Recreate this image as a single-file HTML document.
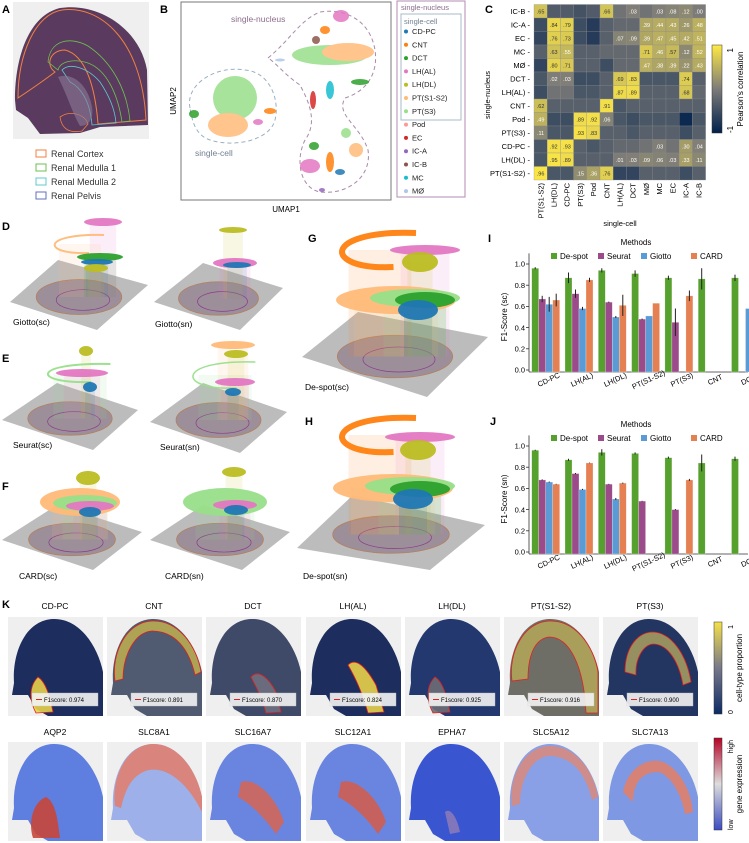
<!DOCTYPE html>
<html><head><meta charset="utf-8"><style>
html,body{margin:0;padding:0;background:#fff}
svg{display:block;font-family:"Liberation Sans",sans-serif}
</style></head><body>
<svg id="fig" width="749" height="843" viewBox="0 0 749 843" xmlns="http://www.w3.org/2000/svg">
<defs>
<linearGradient id="cbC" x1="0" y1="0" x2="0" y2="1"><stop offset="0" stop-color="#ffe945"/><stop offset="0.5" stop-color="#7c7b78"/><stop offset="1" stop-color="#00204c"/></linearGradient>
<linearGradient id="cbK1" x1="0" y1="0" x2="0" y2="1"><stop offset="0" stop-color="#f5e04a"/><stop offset="0.5" stop-color="#77788a"/><stop offset="1" stop-color="#0c2a66"/></linearGradient>
<linearGradient id="cbK2" x1="0" y1="0" x2="0" y2="1"><stop offset="0" stop-color="#b40426"/><stop offset="0.5" stop-color="#dddddd"/><stop offset="1" stop-color="#3b4cc0"/></linearGradient>
</defs>

<!-- Panel A -->
<g>
<text x="2" y="13" font-size="11" font-weight="bold">A</text>
<rect x="13" y="2" width="136" height="137" fill="#efefef"/>
<path d="M15,100 C15,55 30,15 60,8 C100,2 140,30 147,70 L148,125 L100,127 L80,133 L40,134 L28,118 L16,110 Z" fill="#5a3a5e"/>
<path d="M18,98 C18,55 35,14 62,10 C100,5 142,40 146,120 L98,124 C95,85 85,55 65,50 C50,50 45,65 55,72 C42,82 30,90 18,98 Z" fill="none" stroke="#f08040" stroke-width="1"/>
<path d="M48,62 C50,40 70,36 88,46 C112,62 127,90 130,121 L122,122 C118,95 107,70 88,63 C72,58 60,62 58,70 Z" fill="none" stroke="#6dc050" stroke-width="0.8"/>
<path d="M62,70 C70,62 88,68 100,82 C110,97 115,110 116,123 L92,125 C90,100 80,87 70,82 Z" fill="none" stroke="#5fc8d0" stroke-width="0.8"/>
<path d="M60,117 C70,110 85,114 88,124 L82,131 C72,133 62,131 60,117 Z" fill="none" stroke="#f08040" stroke-width="0.8"/>
<path d="M58,77 C72,72 88,84 92,107 C94,120 88,126 80,126 C72,112 68,97 58,77 Z" fill="#8a7a98" opacity="0.6"/>
<g font-size="9" fill="#333">
<rect x="36" y="150" width="10" height="7" fill="none" stroke="#f08040"/><text x="51" y="157">Renal Cortex</text>
<rect x="36" y="164" width="10" height="7" fill="none" stroke="#6dc050"/><text x="51" y="171">Renal Medulla 1</text>
<rect x="36" y="178" width="10" height="7" fill="none" stroke="#5fc8d0"/><text x="51" y="185">Renal Medulla 2</text>
<rect x="36" y="192" width="10" height="7" fill="none" stroke="#6070c0"/><text x="51" y="199">Renal Pelvis</text>
</g>
</g>

<!-- Panel B -->
<g>
<text x="160" y="13" font-size="11" font-weight="bold">B</text>
<rect x="181" y="2" width="210" height="198" fill="#fff" stroke="#777" stroke-width="1"/>
<text x="286" y="212" font-size="8" text-anchor="middle">UMAP1</text>
<text transform="translate(176,101) rotate(-90)" font-size="8" text-anchor="middle">UMAP2</text>
<path d="M190,108 C185,85 215,65 245,70 C270,72 280,100 275,120 C270,140 235,148 210,140 C195,135 192,120 190,108 Z" fill="none" stroke="#9ab0c0" stroke-dasharray="4,3"/>
<path d="M268,58 C290,40 300,20 320,12 C345,8 370,20 375,50 C378,70 370,90 345,98 C335,115 360,125 368,150 C372,175 350,195 320,192 C300,188 295,160 305,140 C320,120 305,95 300,85 C285,75 275,62 268,58 Z" fill="none" stroke="#a88aa8" stroke-dasharray="4,3"/>
<g opacity="0.85">
<ellipse cx="235" cy="98" rx="22" ry="22" fill="#98df8a"/>
<ellipse cx="228" cy="125" rx="20" ry="12" fill="#ffbb78"/>
<ellipse cx="194" cy="114" rx="5" ry="4" fill="#2ca02c"/>
<ellipse cx="270" cy="111" rx="6" ry="3" fill="#ff7f0e"/>
<ellipse cx="258" cy="122" rx="5" ry="3" fill="#e377c2"/>
<ellipse cx="330" cy="55" rx="38" ry="10" fill="#98df8a"/>
<ellipse cx="348" cy="52" rx="26" ry="9" fill="#ffbb78"/>
<ellipse cx="341" cy="16" rx="8" ry="6" fill="#e377c2"/>
<ellipse cx="325" cy="30" rx="5" ry="4" fill="#ff7f0e"/>
<ellipse cx="316" cy="40" rx="4" ry="4" fill="#8c564b"/>
<ellipse cx="360" cy="82" rx="9" ry="3" fill="#2ca02c"/>
<ellipse cx="330" cy="90" rx="4" ry="9" fill="#17becf"/>
<ellipse cx="313" cy="100" rx="3" ry="9" fill="#d62728"/>
<ellipse cx="280" cy="60" rx="5" ry="1.5" fill="#aec7e8"/>
<ellipse cx="310" cy="166" rx="10" ry="7" fill="#e377c2"/>
<ellipse cx="314" cy="146" rx="5" ry="4" fill="#2ca02c"/>
<ellipse cx="330" cy="162" rx="4" ry="10" fill="#ff7f0e"/>
<ellipse cx="356" cy="150" rx="7" ry="7" fill="#ffbb78"/>
<ellipse cx="346" cy="133" rx="5" ry="5" fill="#98df8a"/>
<ellipse cx="340" cy="172" rx="5" ry="3" fill="#1f77b4"/>
<ellipse cx="322" cy="190" rx="3" ry="2" fill="#9467bd"/>
</g>
<text x="231" y="22" font-size="8.5" fill="#8c6d8c">single-nucleus</text>
<text x="195" y="156" font-size="8.5" fill="#708090">single-cell</text>
<g font-size="7.5" fill="#222">
<rect x="397" y="1" width="68" height="196" fill="none" stroke="#b08cb0"/>
<rect x="401" y="14" width="60" height="106" fill="none" stroke="#a8b8c8"/>
<text x="401" y="10" fill="#8c6d8c" font-size="7.5">single-nucleus</text>
<text x="404" y="24" fill="#708090" font-size="7.5">single-cell</text>
<g id="legB"></g>
</g>
</g>

<!-- Panel C -->
<g>
<text x="485" y="13" font-size="11" font-weight="bold">C</text>
<g id="heat"></g>
<text transform="translate(490,95) rotate(-90)" font-size="7.5" text-anchor="middle">single-nucleus</text>
<text x="620" y="226" font-size="7.5" text-anchor="middle">single-cell</text>
<rect x="712" y="45" width="10" height="88" fill="url(#cbC)" stroke="#333" stroke-width="0.5"/>
<text transform="translate(733,48) rotate(-90)" font-size="8" text-anchor="end">1</text>
<text transform="translate(733,133) rotate(-90)" font-size="8">-1</text>
<text transform="translate(743,89) rotate(-90)" font-size="8" text-anchor="middle">Pearson's correlation</text>
</g>

<!-- Panels D-H 3D stacks -->
<g id="stacks">
<text x="2" y="230" font-size="11" font-weight="bold">D</text>
<text x="2" y="362" font-size="11" font-weight="bold">E</text>
<text x="2" y="490" font-size="11" font-weight="bold">F</text>
<text x="308" y="242" font-size="11" font-weight="bold">G</text>
<text x="305" y="425" font-size="11" font-weight="bold">H</text>
</g>

<!-- Panel I & J -->
<g>
<text x="488" y="242" font-size="11" font-weight="bold">I</text>
<g id="barI"></g>
</g>
<g>
<text x="490" y="425" font-size="11" font-weight="bold">J</text>
<g id="barJ"></g>
</g>

<!-- Panel K -->
<g>
<text x="2" y="608" font-size="11" font-weight="bold">K</text>
<g id="maps"></g>
<rect x="714" y="622" width="8" height="92" fill="url(#cbK1)" stroke="#333" stroke-width="0.5"/>
<text transform="translate(733,625) rotate(-90)" font-size="7" text-anchor="end">1</text>
<text transform="translate(733,714) rotate(-90)" font-size="7">0</text>
<text transform="translate(742,668) rotate(-90)" font-size="8" text-anchor="middle">cell-type proportion</text>
<rect x="714" y="738" width="8" height="92" fill="url(#cbK2)" stroke="#333" stroke-width="0.5"/>
<text transform="translate(733,740) rotate(-90)" font-size="7" text-anchor="end">high</text>
<text transform="translate(733,830) rotate(-90)" font-size="7">low</text>
<text transform="translate(742,784) rotate(-90)" font-size="8" text-anchor="middle">gene expression</text>
</g>
</svg>
<script>
const NS="http://www.w3.org/2000/svg";
function mk(tag,attrs,parent){const e=document.createElementNS(NS,tag);for(const k in attrs)e.setAttribute(k,attrs[k]);if(parent)parent.appendChild(e);return e;}

// ---------- Panel B legend ----------
const legendNames=["CD-PC","CNT","DCT","LH(AL)","LH(DL)","PT(S1-S2)","PT(S3)","Pod","EC","IC-A","IC-B","MC","MØ"];
const legendColors=["#1f77b4","#ff7f0e","#2ca02c","#e377c2","#bcbd22","#ffbb78","#98df8a","#ff9896","#d62728","#9467bd","#8c564b","#17becf","#aec7e8"];
{const g=document.getElementById('legB');
legendNames.forEach((n,i)=>{const y=34+i*13.3;
const c=mk('circle',{cx:406,cy:y-2.5,r:2,fill:legendColors[i]},g);


const t=mk('text',{x:412,y:y,'font-size':7.5},g);t.textContent=n;

});}

// ---------- Panel C heatmap ----------
const heatRows=["IC-B","IC-A","EC","MC","MØ","DCT","LH(AL)","CNT","Pod","PT(S3)","CD-PC","LH(DL)","PT(S1-S2)"];
const heatCols=["PT(S1-S2)","LH(DL)","CD-PC","PT(S3)","Pod","CNT","LH(AL)","DCT","MØ","MC","EC","IC-A","IC-B"];
const heatValues=[
[.65,-.35,-.35,-.45,-.35,.66,-.1,.03,-.1,.03,.08,.12,.00],
[-.5,.84,.79,-.5,-.7,-.3,-.2,-.2,.39,.44,.43,.26,.48],
[-.6,.76,.73,-.5,-.7,-.3,.07,.09,.39,.47,.45,.42,.51],
[-.3,.63,.55,-.3,-.3,-.2,-.2,-.2,.71,.46,.57,.12,.52],
[-.6,.80,.71,-.3,-.3,-.5,-.2,-.2,.47,.38,.39,.22,.43],
[-.4,.02,.03,-.5,-.5,-.3,.69,.83,-.4,-.4,-.4,.74,-.3],
[-.5,-.1,-.1,-.4,-.4,-.3,.87,.89,-.3,-.3,-.3,.68,-.2],
[.62,-.3,-.3,-.3,-.3,.91,-.4,-.3,-.3,-.3,-.3,-.3,-.3],
[.49,-.5,-.5,.89,.92,.06,-.4,-.5,-.4,-.4,-.4,-.9,-.4],
[.11,-.4,-.4,.93,.83,-.3,-.3,-.4,-.3,-.3,-.3,-.5,-.3],
[-.4,.92,.93,-.3,-.4,-.3,-.2,-.2,-.1,.03,-.1,.30,.04],
[-.4,.95,.89,-.3,-.3,-.3,.01,.03,.09,.06,.03,.33,.11],
[.96,-.4,-.4,.15,.36,.76,-.6,-.6,-.3,-.3,-.3,-.5,-.3]];
const heatShown=[
[1,0,0,0,0,1,0,1,0,1,1,1,1],[0,1,1,0,0,0,0,0,1,1,1,1,1],[0,1,1,0,0,0,1,1,1,1,1,1,1],
[0,1,1,0,0,0,0,0,1,1,1,1,1],[0,1,1,0,0,0,0,0,1,1,1,1,1],[0,1,1,0,0,0,1,1,0,0,0,1,0],
[0,0,0,0,0,0,1,1,0,0,0,1,0],[1,0,0,0,0,1,0,0,0,0,0,0,0],[1,0,0,1,1,1,0,0,0,0,0,0,0],
[1,0,0,1,1,0,0,0,0,0,0,0,0],[0,1,1,0,0,0,0,0,0,1,0,1,1],[0,1,1,0,0,0,1,1,1,1,1,1,1],
[1,0,0,1,1,1,0,0,0,0,0,0,0]];
function lerp(a,b,t){return a+(b-a)*t}
function cividis(v){const lo=[0,32,76],mid=[124,123,120],hi=[255,233,69];let c;
if(v<0){const t=v+1;c=lo.map((x,i)=>lerp(x,mid[i],t));}else{c=mid.map((x,i)=>lerp(x,hi[i],v));}
return `rgb(${c.map(Math.round).join(',')})`;}
function fmt(v){let s=Math.abs(v).toFixed(2);return s.replace(/^0/,'');}
{const g=document.getElementById('heat');const x0=534,y0=4.5,cw=13.2,ch=13.5;
heatRows.forEach((r,i)=>{
 const t=mk('text',{x:x0-4,y:y0+i*ch+ch/2+2.7,'font-size':7.5,'text-anchor':'end'},g);t.textContent=r+" -";
 
 
 heatCols.forEach((c,j)=>{const v=heatValues[i][j];
  const rc=mk('rect',{x:x0+j*cw,y:y0+i*ch,width:cw,height:ch,fill:cividis(v),stroke:'#8a8a8a','stroke-width':0.3},g);
  
  
  if(heatShown[i][j]){const tt=mk('text',{x:x0+j*cw+cw/2,y:y0+i*ch+ch/2+2,'font-size':5.5,'text-anchor':'middle',fill:v>0.55?'#333':'#fff'},g);tt.textContent=fmt(v);
  
  }
 });});
heatCols.forEach((c,j)=>{const t=mk('text',{transform:`translate(${x0+j*cw+cw/2+2.7},${y0+13*ch+3}) rotate(-90)`,'font-size':7.5,'text-anchor':'end'},g);t.textContent=c;
 
 });}

// ---------- Panels D-H ----------
function stack(g,plane,layers,label,lx,ly,name){
 const grp=mk('g',{},g);
 const p=plane;
 const pl=mk('polygon',{points:p.map(q=>q.join(',')).join(' '),fill:'#b5b5b5',opacity:0.9},grp);
 
 const cx=(p[0][0]+p[2][0])/2, cy=(p[1][1]+p[3][1])/2+2;
 const w=(p[2][0]-p[0][0])*0.62, h=(p[3][1]-p[1][1])*0.5;
 const ts=mk('ellipse',{cx:cx,cy:cy,rx:w/2,ry:h/2,fill:'#8c7888',opacity:0.65,stroke:'#b0602a','stroke-width':0.8},grp);
 
 const ti=mk('ellipse',{cx:cx+4,cy:cy+3,rx:w/3.2,ry:h/3.4,fill:'none',stroke:'#8a3a8a','stroke-width':0.7},grp);
 
 layers.forEach(L=>{
  const ln=mk('rect',{x:L[0]-L[2]*0.7,y:L[1],width:L[2]*1.4,height:Math.max(0,cy-L[1]),fill:L[4],opacity:0.12},grp);
  
 });
 layers.forEach(L=>{
  let e;
  if(L[5]==='arc'){e=mk('path',{d:`M${L[0]+L[2]*0.8},${L[1]-L[3]} C${L[0]-L[2]*1.3},${L[1]-L[3]*1.2} ${L[0]-L[2]*1.3},${L[1]+L[3]*1.2} ${L[0]+L[2]*0.3},${L[1]+L[3]}`,fill:'none',stroke:L[4],'stroke-width':L[6]||3,opacity:0.95},grp);}
  else e=mk('ellipse',{cx:L[0],cy:L[1],rx:L[2],ry:L[3],fill:L[4],opacity:0.95},grp);
  
 });
 const t=mk('text',{x:lx,y:ly,'font-size':8.5},grp);t.textContent=label;
 
}
{const g=document.getElementById('stacks');
const pk='#e377c2',gr='#2ca02c',bl='#1f77b4',ol='#bcbd22',lo='#ffbb78',lg='#98df8a',or='#ff7f0e';
stack(g,[[10,302],[58,260],[148,285],[97,330]],[[80,244,30,9,lo,'arc',2],[100,257,23,4,gr],[97,262,16,3,bl],[96,268,12,4,ol],[103,222,19,4,pk]],'Giotto(sc)',13,325,'stack-giotto-sc');
stack(g,[[154,302],[203,263],[283,288],[240,330]],[[235,263,22,5,pk],[237,265,14,3,bl],[233,230,14,3,ol]],'Giotto(sn)',155,327,'stack-giotto-sn');
stack(g,[[2,420],[57,383],[138,410],[93,450]],[[80,373,38,9,lg,'arc',2],[82,373,26,4,pk],[90,387,7,5,bl],[86,351,7,5,ol]],'Seurat(sc)',13,448,'stack-seurat-sc');
stack(g,[[150,422],[203,383],[287,412],[240,453]],[[225,375,38,13,lg,'arc',1.5],[235,382,20,4,pk],[233,392,8,4,bl],[236,354,12,4,ol],[233,345,22,4,lo]],'Seurat(sn)',160,450,'stack-seurat-sn');
stack(g,[[2,540],[57,505],[142,532],[93,570]],[[80,502,40,14,lo],[85,503,32,8,lg],[90,506,24,5,pk],[90,512,11,5,bl],[88,478,12,7,ol]],'CARD(sc)',19,579,'stack-card-sc');
stack(g,[[150,540],[203,505],[290,532],[242,570]],[[225,502,42,14,lg],[235,505,22,5,pk],[236,510,12,5,bl],[234,472,12,5,ol]],'CARD(sn)',165,579,'stack-card-sn');
stack(g,[[302,357],[358,312],[488,337],[427,397]],[[380,250,45,17,or,'arc',6],[425,250,35,5,pk],[420,262,18,10,ol],[396,300,60,14,lo],[415,298,45,9,lg],[425,300,30,8,gr],[418,310,20,10,bl]],'De-spot(sc)',305,390,'stack-despot-sc');
stack(g,[[297,548],[353,495],[485,525],[430,570]],[[380,435,45,17,or,'arc',6],[420,437,35,5,pk],[418,450,18,10,ol],[393,488,60,14,lo],[410,486,45,9,lg],[420,489,30,8,gr],[413,499,20,10,bl]],'De-spot(sn)',303,579,'stack-despot-sn');
}

// ---------- Panels I and J bar charts ----------
const barCats=["CD-PC","LH(AL)","LH(DL)","PT(S1-S2)","PT(S3)","CNT","DCT"];
const methods=["De-spot","Seurat","Giotto","CARD"];
const scDespot=[.96,.87,.94,.91,.87,.86,.87];
const scSeurat=[.67,.72,.64,.48,.45,null,null];
const scGiotto=[.62,.58,.50,.51,null,null,.58];
const scCard=[.66,.85,.61,.63,.70,null,null];
const scDespotErr=[.01,.05,.02,.03,.02,.1,.03];
const scSeuratErr=[.03,.04,.005,.005,.13,null,null];
const scGiottoErr=[.07,.015,.01,0,null,null,0];
const scCardErr=[.06,.02,.1,0,.05,null,null];
const snDespot=[.96,.87,.94,.93,.89,.84,.88];
const snSeurat=[.68,.74,.64,.48,.40,null,null];
const snGiotto=[.66,.59,.50,null,null,null,null];
const snCard=[.64,.84,.65,null,.68,null,null];
const snDespotErr=[.005,.01,.03,.01,.01,.08,.02];
const snSeuratErr=[.005,.005,.003,.003,.005,null,null];
const snGiottoErr=[.005,.005,.01,null,null,null,null];
const snCardErr=[.003,.003,.005,null,.01,null,null];
const yTicks=[0,0.2,0.4,0.6,0.8,1.0];
const methodColors=["#56a02e","#9b4a8a","#5b9bd5","#e58053"];
function barChart(gid,y0,ytop,series,errs,ylabel,tag){
 const g=document.getElementById(gid);
 const xL=529,xR=748;
 const yS=v=>y0-(y0-ytop)*v;
 const xS=(i,j)=>531.7+i*33.3+j*7;
 const bw=7;
 mk('line',{x1:xL,y1:yS(1.1),x2:xL,y2:y0+2,stroke:'#333','stroke-width':0.8},g);
 mk('line',{x1:xL,y1:y0+2,x2:xR,y2:y0+2,stroke:'#333','stroke-width':0.8},g);
 yTicks.forEach(t=>{mk('line',{x1:xL-3,y1:yS(t),x2:xL,y2:yS(t),stroke:'#333','stroke-width':0.8},g);
  const tx=mk('text',{x:xL-4,y:yS(t)+2.7,'font-size':7.5,'text-anchor':'end'},g);tx.textContent=t.toFixed(1);
  });
 const yl=mk('text',{transform:`translate(${507},${(y0+ytop)/2}) rotate(-90)`,'font-size':8,'text-anchor':'middle'},g);yl.textContent=ylabel;
 
 const mt=mk('text',{x:636,y:ytop-19,'font-size':8,'text-anchor':'middle'},g);mt.textContent="Methods";
 
 const lx=[551,598,641,691];
 methods.forEach((m,j)=>{const r=mk('rect',{x:lx[j],y:ytop-11,width:6,height:6,fill:methodColors[j]},g);
  
  const t=mk('text',{x:lx[j]+9,y:ytop-5,'font-size':8},g);t.textContent=m;
  });
 barCats.forEach((c,i)=>{
  series.forEach((s,j)=>{const v=s[i];if(v==null)return;
   const r=mk('rect',{x:xS(i,j),y:yS(v),width:bw,height:y0+2-yS(v),fill:methodColors[j],stroke:'#fff','stroke-opacity':0.5,'stroke-width':0.5},g);
   
   
   const e=errs[j][i];if(e!=null&&e>0){const l=mk('line',{x1:xS(i,j)+bw/2,x2:xS(i,j)+bw/2,y1:yS(v+e),y2:yS(v-e),stroke:'#222','stroke-width':1},g);
    }
  });
  const t=mk('text',{transform:`translate(${xS(i,0)+18},${y0+12}) rotate(-25)`,'font-size':7.5,'text-anchor':'middle'},g);t.textContent=c;
  
 });
}
barChart('barI',370,264,[scDespot,scSeurat,scGiotto,scCard],[scDespotErr,scSeuratErr,scGiottoErr,scCardErr],'F1-Score (sc)','sc');
barChart('barJ',552,446,[snDespot,snSeurat,snGiotto,snCard],[snDespotErr,snSeuratErr,snGiottoErr,snCardErr],'F1-Score (sn)','sn');

// ---------- Panel K maps ----------
const topTitles=["CD-PC","CNT","DCT","LH(AL)","LH(DL)","PT(S1-S2)","PT(S3)"];
const f1Scores=["0.974","0.891","0.870","0.824","0.925","0.916","0.900"];
const geneTitles=["AQP2","SLC8A1","SLC16A7","SLC12A1","EPHA7","SLC5A12","SLC7A13"];
const mapX=[8,107,206,306,405,504,603];
const kid="M6,66 C4,35 18,3 45,2 C72,1 90,30 95,55 L95,99 L40,99 L28,92 L20,78 L4,78 Z";
const topBase=["#1c2d5e","#505a70","#3f4a68","#1c2d5e","#22386e","#6f6e66","#233561"];
const topHi=[["M28,96 C22,85 20,70 30,60 C38,65 42,80 45,95 Z","#e8d24a"],
 ["M8,64 C4,35 20,5 45,4 C72,3 90,30 94,55 L88,58 C82,32 68,14 45,14 C28,15 16,38 16,62 Z","#b8aa52"],
 ["M45,60 C52,52 62,60 70,75 L75,95 L60,96 C56,80 50,70 45,60 Z","#6f7080"],
 ["M42,48 C50,40 60,50 70,68 L78,95 L62,96 C56,75 50,62 42,48 Z","#e8d24a"],
 ["M28,96 C22,85 20,70 30,60 C38,65 42,80 45,95 Z","#6d6e74"],
 ["M8,64 C4,35 20,5 45,4 C72,3 90,30 94,55 L94,96 L82,96 C80,50 66,20 45,20 C30,22 24,40 24,62 Z","#b0a35a"],
 ["M22,55 C22,30 35,15 50,15 C70,16 84,40 88,65 L80,68 C76,45 65,27 50,27 C40,28 32,42 33,58 Z","#a39a62"]];
const geneBase=["#5e7ee0","#9db0ea","#6a85e0","#6a85e0","#3a55d0","#8aa0e6","#7f98e4"];
const geneHi=[["M25,96 C20,80 25,60 38,55 C48,60 50,80 52,96 Z","#c8463a"],
 ["M8,64 C4,35 20,3 45,2 C72,1 90,30 95,55 L95,70 C80,40 60,25 42,28 C25,32 18,48 14,66 Z","#e08070"],
 ["M35,40 C50,35 70,55 78,80 L70,92 C58,75 45,62 32,55 Z","#d0665a"],
 ["M35,40 C50,35 72,55 80,80 L72,92 C60,75 46,62 32,55 Z","#cf5e52"],
 ["M40,70 C45,65 52,75 55,90 L45,92 Z","#8a7ab8"],
 ["M8,64 C4,35 20,5 45,4 C72,3 90,30 94,55 L88,58 C82,32 68,14 45,14 C28,15 16,38 16,62 Z","#d58a80"],
 ["M20,50 C25,25 45,15 60,20 C78,28 88,50 90,70 L82,72 C78,50 66,32 55,30 C40,30 30,40 30,60 Z","#e0806a"]];
{const g=document.getElementById('maps');
for(let i=0;i<7;i++){
 [[617,topTitles,topBase,topHi,609,'proportion'],[742,geneTitles,geneBase,geneHi,735,'expression']].forEach((row,ri)=>{
  const [y,titles,base,hi,ty,kind]=row;
  const grp=mk('g',{transform:`translate(${mapX[i]},${y})`},g);
  
  
  mk('rect',{x:0,y:0,width:95,height:99,fill:'#efefef'},grp);
  mk('path',{d:kid,fill:base[i]},grp);
  mk('path',{d:hi[i][0],fill:hi[i][1],opacity:0.9},grp);
  if(ri===0){mk('path',{d:hi[i][0],fill:'none',stroke:'#e02020','stroke-width':0.8},grp);
   const lb=mk('rect',{x:24,y:76,width:66,height:13,fill:'#f4f4f4',opacity:0.9,stroke:'#ccc','stroke-width':0.4},grp);
   
   mk('line',{x1:28,x2:34,y1:82.5,y2:82.5,stroke:'#e02020','stroke-width':1},grp);
   const ft=mk('text',{x:36,y:85,'font-size':6},grp);ft.textContent="F1score: "+f1Scores[i];
   }
  const t=mk('text',{x:mapX[i]+47,y:ty,'font-size':8.5,'text-anchor':'middle'},g);t.textContent=titles[i];
  
 });
}}
</script>
</body></html>
